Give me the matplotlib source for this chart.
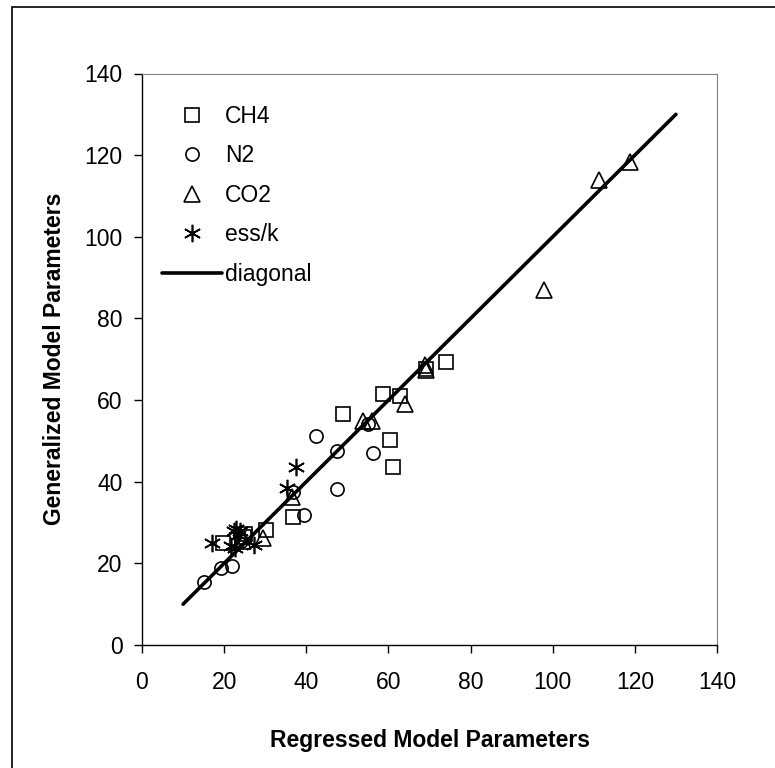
import matplotlib.pyplot as plt
from matplotlib.patches import Rectangle

plt.rcParams['font.family'] = ['Liberation Sans', 'DejaVu Sans']

# regressed vs generalized parameters for each gas
ch4_x = [74.0, 69.1, 58.6, 62.8, 48.9, 60.5, 61.0, 36.7, 30.3, 24.8, 25.0, 19.8]
ch4_y = [69.3, 67.6, 61.4, 61.0, 56.6, 50.2, 43.7, 31.3, 28.2, 26.5, 27.2, 25.0]

n2_x = [55.1, 42.4, 47.4, 56.2, 47.5, 36.8, 39.5, 21.8, 19.2, 15.0, 24.0]
n2_y = [54.2, 51.1, 47.6, 47.0, 38.3, 37.4, 31.9, 19.4, 18.8, 15.4, 25.5]

co2_x = [118.7, 111.3, 97.8, 69.0, 69.2, 64.1, 53.7, 56.0, 36.6, 29.4, 24.5]
co2_y = [118.2, 114.0, 87.0, 68.6, 67.4, 59.0, 54.9, 54.9, 36.2, 26.1, 25.5]

essk_x = [37.4, 35.2, 27.2, 23.0, 22.3, 23.8, 23.3, 17.0, 21.6, 22.6]
essk_y = [43.5, 38.4, 24.4, 28.3, 28.0, 28.0, 26.9, 24.9, 24.2, 23.8]

diag = [10, 130]

fig = plt.figure(figsize=(7.75, 7.68), dpi=100)
ax = fig.add_axes([142 / 775, 1 - 645 / 768, 575 / 775, 571.5 / 768])

mk = dict(linestyle='none', mfc='none', mec='black', mew=1.2)
ax.plot(ch4_x, ch4_y, marker='s', ms=10, label='CH4', **mk)
ax.plot(n2_x, n2_y, marker='o', ms=9.5, label='N2', **mk)
ax.plot(co2_x, co2_y, marker='^', ms=11.5, label='CO2', **mk)
ax.plot(essk_x, essk_y, marker=(6, 2, 0), ms=12.5, label='ess/k', **mk)
ax.plot(diag, diag, color='black', lw=2.6, solid_capstyle='round', label='diagonal')

ax.set_xlim(0, 140)
ax.set_ylim(0, 140)
ax.set_xticks(range(0, 141, 20))
ax.set_yticks(range(0, 141, 20))
ax.tick_params(direction='out', length=6, width=1, labelsize=16.5)
ax.tick_params(axis='x', pad=13)
ax.tick_params(axis='y', pad=8)

for side in ['left', 'bottom']:
    ax.spines[side].set_color('black')
    ax.spines[side].set_linewidth(1)
for side in ['top', 'right']:
    ax.spines[side].set_color('#808080')
    ax.spines[side].set_linewidth(0.8)

ax.set_xlabel('Regressed Model Parameters', fontsize=16.5, fontweight='bold')
ax.set_ylabel('Generalized Model Parameters', fontsize=16.5, fontweight='bold')
ax.xaxis.set_label_coords(0.5, -0.147)
ax.yaxis.set_label_coords(-0.132, 0.5)

ax.legend(loc='upper left', bbox_to_anchor=(0.035, 0.945), frameon=False,
          fontsize=16.5, borderpad=0, borderaxespad=0, labelspacing=0.72,
          handlelength=2.6, handletextpad=0.15)

# outer chart border
fig.patches.append(Rectangle((12 / 775, -0.01), 0.995, 1 - 7 / 768 + 0.01,
                             transform=fig.transFigure, fill=False,
                             edgecolor='black', lw=1.2))

fig.savefig('out.png', dpi=100)
